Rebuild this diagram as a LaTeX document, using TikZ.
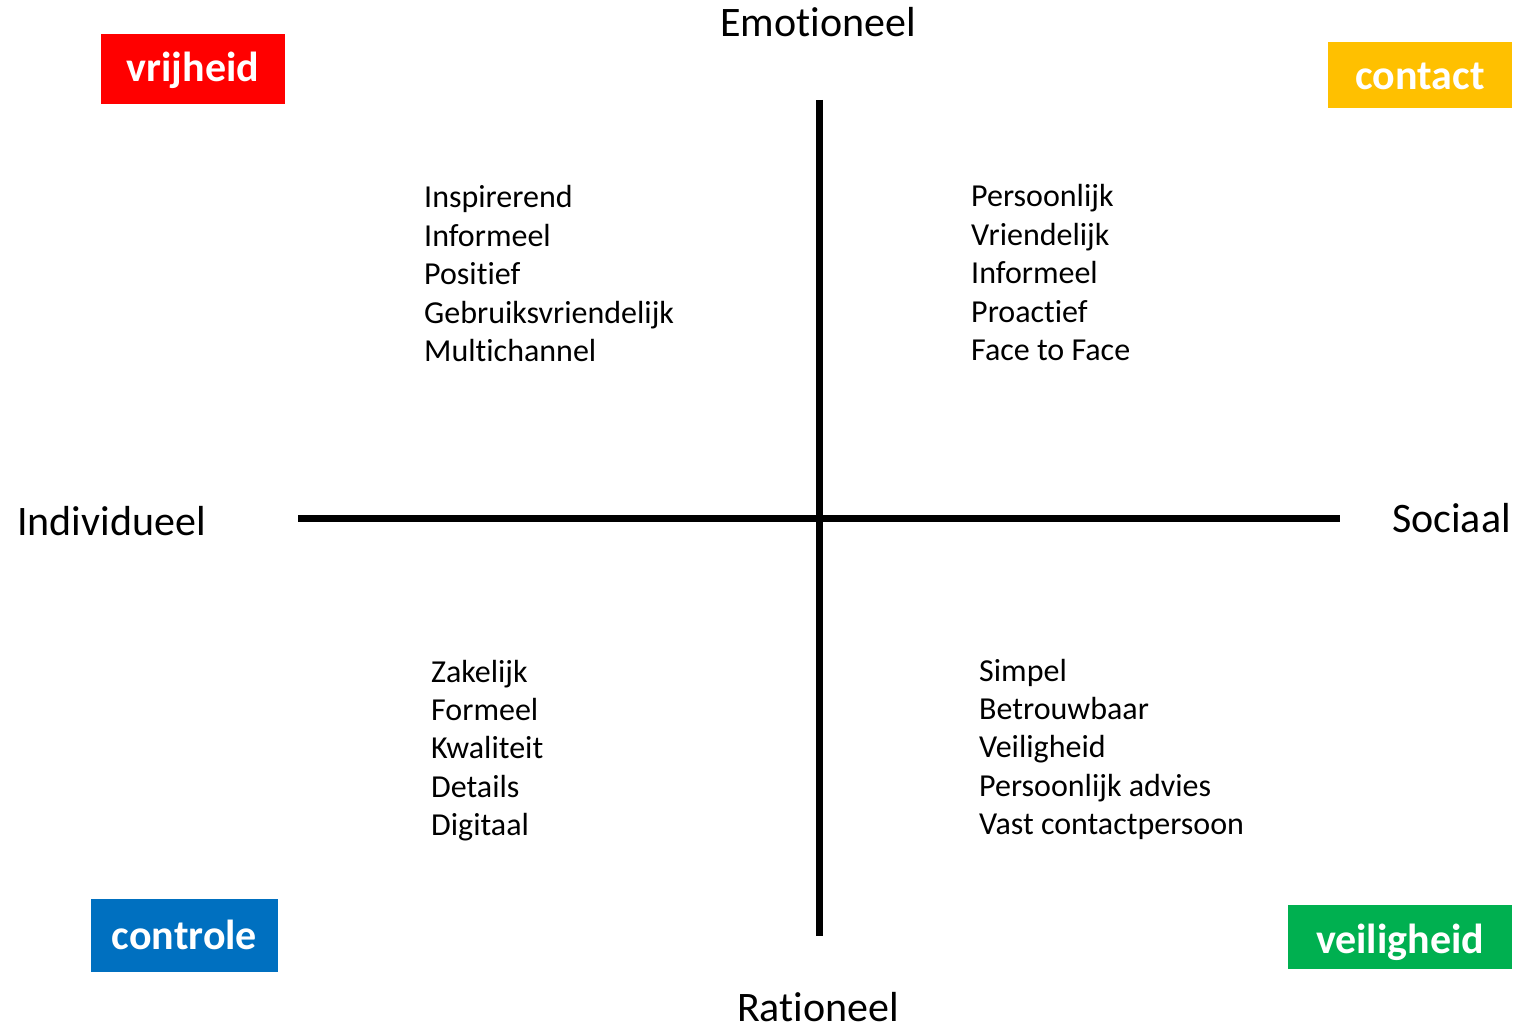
\documentclass[tikz,border=0pt]{standalone}
\usepackage{fontspec}
\setmainfont[RawFeature={-liga;-clig}]{Carlito}
\definecolor{cred}{HTML}{FF0000}
\definecolor{cyellow}{HTML}{FFC000}
\definecolor{cblue}{HTML}{0070C0}
\definecolor{cgreen}{HTML}{00B050}
\begin{document}
\begin{tikzpicture}[x=1pt,y=-1pt,
  item/.style={anchor=base west,inner sep=0pt,font=\fontsize{32}{38.5}\selectfont},
  axlabel/.style={anchor=base,inner sep=0pt,font=\fontsize{42}{50}\selectfont},
  boxtxt/.style={anchor=base,inner sep=0pt,text=white,font=\fontsize{42}{50}\selectfont\bfseries},
  axis/.style={line width=7pt}]
\useasboundingbox (0,0) rectangle (1518,1027);
% axes
\coordinate (hl) at (298,518);
\coordinate (hr) at (1340,518);
\coordinate (vt) at (819,100);
\coordinate (vb) at (819,936);
\draw[axis] (hl) -- (hr);
\draw[axis] (vt) -- (vb);
% axis labels
\node[axlabel] (emo) at (818,37) {Emotioneel};
\node[axlabel] (rat) at (818,1021) {Rationeel};
\node[axlabel,anchor=base west] (ind) at (17,535) {Individueel};
\node[axlabel,anchor=base east] (soc) at (1511,532) {Sociaal};
% coloured boxes
\fill[cred] (101,34) rectangle (285,104);
\node[boxtxt] (vrij) at (193,82) {vrijheid};
\fill[cyellow] (1328,42) rectangle (1512,108);
\node[boxtxt] (cont) at (1420,90) {contact};
\fill[cblue] (91,899) rectangle (278,972);
\node[boxtxt] (contr) at (184.5,949) {controle};
\fill[cgreen] (1288,905) rectangle (1512,969);
\node[boxtxt] (veil) at (1400,953) {veiligheid};
% lists
\foreach \t [count=\i] in {Inspirerend,Informeel,Positief,Gebruiksvriendelijk,Multichannel}
  \node[item] (tl\i) at (424,{208+38.4*(\i-1)}) {\t};
\foreach \t [count=\i] in {Persoonlijk,Vriendelijk,Informeel,Proactief,Face to Face}
  \node[item] (tr\i) at (971,{207+38.4*(\i-1)}) {\t};
\foreach \t [count=\i] in {Zakelijk,Formeel,Kwaliteit,Details,Digitaal}
  \node[item] (bl\i) at (431,{682+38.4*(\i-1)}) {\t};
\foreach \t [count=\i] in {Simpel,Betrouwbaar,Veiligheid,Persoonlijk advies,Vast contactpersoon}
  \node[item] (br\i) at (979,{681+38.4*(\i-1)}) {\t};
\end{tikzpicture}
\end{document}
